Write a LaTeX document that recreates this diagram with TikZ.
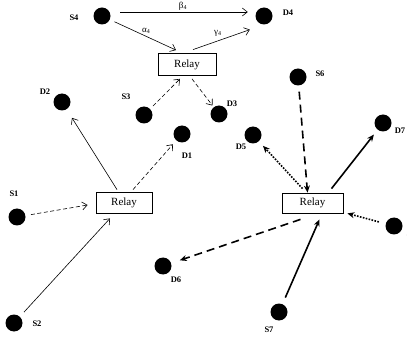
\documentclass[tikz,border=0pt]{standalone}
\usepackage{fontspec}
\setmainfont{Liberation Serif}
\usetikzlibrary{arrows.meta}
\begin{document}
\begin{tikzpicture}[x=1pt,y=-1pt,
		blob/.style={circle,fill,inner sep=0,minimum size=17pt},
		lbl/.style={inner sep=0,font=\fontsize{8.5}{10}\selectfont\bfseries},
		glbl/.style={inner sep=0,font=\fontsize{9}{10}\selectfont},
		relay/.style={draw,line width=0.8pt,inner sep=0,minimum width=58pt,minimum height=22pt,font=\fontsize{11}{13}\selectfont},
		link/.style={line width=0.6pt,-{Straight Barb[length=5pt,width=8pt]}},
		heavy/.style={line width=1.6pt,-{Stealth[length=7pt,width=6pt]}},
		sdash/.style={dash pattern=on 4pt off 2.5pt},
		ldash/.style={dash pattern=on 8pt off 5pt},
		dots/.style={dash pattern=on 1.6pt off 1.4pt}]
	\useasboundingbox (0,0) rectangle (407,339);
	\foreach \n/\x/\y/\lx/\ly/\l in {s4/102/16/74/18/S4, d4/264/16/288/13/D4, s3/144/115/126/97/S3, d3/219/114/232/104/D3, d2/62/102/45/92/D2, d1/182/134/187/156/D1, s1/17/217/14/194/S1, s2/14/323/37/324/S2, d6/163/266/176/280/D6, s6/298/77/320/74/S6, d5/253/135/241/147/D5, d7/383/123/400/131/D7, s5/394/226/411/234/S5, s7/279/312/269/330/S7}{
		\node [blob] at (\x,\y) (\n) {};
		\node [lbl] at (\lx,\ly) (\n-l) {\l};
	}
	\node [relay] at (187,64.5) (rt) {Relay};
	\node [relay,minimum width=56pt,minimum height=21pt] at (124,202.5) (rl) {Relay};
	\node [relay,minimum width=61pt,minimum height=20pt] at (312.5,203) (rr) {Relay};
	% top relay
	\draw [link,shorten <=9.5pt,shorten >=7.5pt] ([yshift=4pt]s4.east) -- node [glbl,above=1pt] (b4) {β\textsubscript{4}} ([yshift=4pt]d4.west);
	\draw [link,shorten <=5pt] (s4) -- node [glbl,above=3pt,pos=0.55] (a4) {α\textsubscript{4}} ([shift={(-11,-3)}]rt.north);
	\draw [link,shorten >=15pt] ([shift={(6,-3.5)}]rt.north) -- node [glbl,above=4pt,pos=0.35] (g4) {γ\textsubscript{4}} (d4.south);
	\draw [link,sdash,shorten <=4pt] (s3) -- ([shift={(-7,3)}]rt.south);
	\draw [link,sdash,shorten >=2pt] ([shift={(5,3)}]rt.south) -- (d3);
	% left relay
	\draw [link,shorten >=10pt] ([shift={(-7,-2)}]rl.north) -- (d2);
	\draw [link,sdash,shorten >=5pt] ([shift={(9,-2)}]rl.north) -- (d1);
	\draw [link,sdash,shorten <=5.5pt] (s1) -- ([shift={(-8,2.5)}]rl.west);
	\draw [link,shorten <=6pt] (s2) -- ([shift={(-14,5)}]rl.south);
	% right relay
	\draw [heavy,ldash,shorten <=6pt] (s6) -- ([shift={(-5,0)}]rr.north);
	\draw [heavy,dots,shorten >=6pt] ([shift={(-10,-4)}]rr.north) -- (d5);
	\draw [heavy,shorten >=6pt] ([shift={(19,-4)}]rr.north) -- (d7);
	\draw [heavy,dots,shorten <=7pt] (s5) -- ([shift={(4,0)}]rr.south east);
	\draw [heavy,ldash,shorten >=9pt] ([shift={(-12,6)}]rr.south) -- (d6);
	\draw [heavy,shorten <=7pt] (s7) -- ([shift={(7,6)}]rr.south);
\end{tikzpicture}
\end{document}
